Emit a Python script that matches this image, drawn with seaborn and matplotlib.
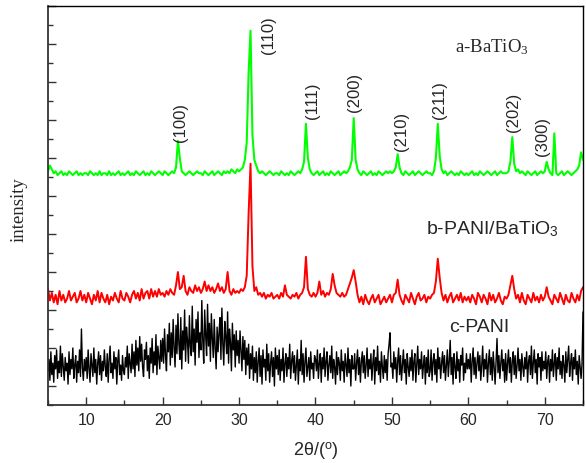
import numpy as np
import pandas as pd
import seaborn as sns
import matplotlib.pyplot as plt
from matplotlib.ticker import MultipleLocator

# 2theta grids, 5..75 deg: 0.25 deg steps for the two BaTiO3 traces,
# 0.125 deg steps for the noisy PANI trace
two_theta = 5 + 0.25 * np.arange(281)
two_theta_fine = 5 + 0.125 * np.arange(561)

# intensities, in tenths above each trace's own baseline
# rows = 5 degrees each, last value is 75.0
bto = [3, 6, 4, 2, 3, 1, 2, 3, 1, 2, 1, 3, 2, 1, 2, 3, 1, 2, 1, 2,
       2, 1, 3, 2, 1, 2, 1, 3, 1, 2, 2, 1, 3, 1, 2, 1, 2, 3, 1, 2,
       1, 2, 3, 1, 2, 1, 3, 2, 1, 2, 3, 1, 2, 1, 3, 2, 1, 2, 3, 2,
       1, 3, 2, 1, 2, 3, 2, 5, 19, 10, 3, 2, 1, 2, 3, 2, 1, 2, 3, 2,
       2, 1, 3, 2, 1, 2, 3, 1, 2, 3, 2, 1, 3, 2, 3, 2, 4, 3, 2, 4,
       3, 4, 5, 9, 18, 55, 77, 22, 9, 6, 3, 2, 3, 2, 1, 2, 3, 2, 1, 2,
       2, 1, 3, 2, 1, 2, 1, 3, 2, 1, 2, 3, 2, 4, 8, 28, 10, 4, 2, 1,
       2, 3, 1, 2, 3, 1, 2, 1, 3, 2, 1, 2, 3, 1, 2, 3, 2, 3, 5, 9,
       31, 9, 4, 2, 1, 3, 2, 1, 2, 3, 1, 2, 1, 3, 2, 1, 2, 3, 2, 3,
       2, 3, 5, 12, 5, 2, 1, 3, 2, 1, 2, 3, 1, 2, 3, 2, 1, 2, 3, 2,
       2, 1, 3, 10, 28, 11, 4, 2, 3, 1, 2, 3, 2, 1, 2, 1, 3, 2, 1, 2,
       1, 2, 3, 1, 2, 1, 3, 2, 1, 2, 3, 2, 1, 2, 3, 1, 2, 3, 2, 2,
       2, 3, 8, 21, 7, 3, 4, 2, 3, 2, 1, 3, 2, 1, 2, 3, 1, 2, 3, 2,
       3, 8, 4, 2, 1, 23, 2, 1, 2, 3, 1, 2, 3, 2, 1, 2, 3, 4, 6, 13,
       9]

pani_bto = [8, 2, 6, 1, 5, 0, 7, 2, 5, 1, 3, 7, 2, 4, 6, 1, 3, 7, 2, 5,
            1, 6, 3, 0, 5, 2, 7, 1, 6, 3, 1, 5, 0, 4, 2, 6, 3, 1, 7, 3,
            2, 6, 4, 1, 5, 7, 3, 6, 2, 8, 3, 6, 7, 3, 8, 4, 7, 4, 8, 5,
            6, 4, 7, 5, 8, 6, 5, 10, 17, 8, 9, 15, 7, 5, 9, 7, 6, 10, 7, 9,
            6, 8, 12, 7, 10, 7, 9, 6, 8, 11, 7, 9, 6, 8, 17, 7, 5, 8, 6, 7,
            6, 8, 7, 9, 15, 48, 74, 20, 7, 9, 5, 6, 4, 6, 3, 5, 4, 6, 3, 4,
            5, 3, 6, 4, 10, 5, 4, 3, 5, 4, 6, 3, 5, 6, 9, 25, 8, 5, 4, 6,
            4, 6, 12, 5, 7, 4, 6, 5, 8, 16, 10, 6, 5, 4, 6, 4, 5, 8, 11, 14,
            18, 12, 5, 1, 4, 0, 5, 2, 0, 3, 5, 1, 3, 5, 0, 2, 4, 1, 3, 5,
            1, 5, 6, 13, 5, 2, 0, 5, 3, 1, 6, 3, 0, 4, 6, 2, 3, 5, 1, 4,
            3, 5, 6, 12, 24, 14, 6, 2, 5, 1, 4, 6, 1, 3, 5, 2, 6, 1, 4, 2,
            4, 1, 5, 3, 0, 6, 4, 1, 5, 3, 0, 6, 2, 5, 1, 3, 6, 2, 0, 4,
            3, 5, 10, 15, 8, 3, 5, 1, 6, 2, 0, 5, 3, 1, 6, 2, 4, 1, 5, 2,
            4, 9, 4, 2, 0, 5, 3, 1, 6, 3, 0, 5, 2, 1, 6, 3, 1, 5, 2, 7,
            9]

pani = [8, 14, 3, 18, 6, 12, 2, 16, 9, 19, 4, 13, 7, 21, 5, 17, 10, 3, 15, 8,
        12, 1, 18, 6, 14, 9, 20, 4, 11, 16, 2, 13, 7, 19, 5, 30, 10, 3, 14, 8,
        15, 4, 19, 9, 2, 17, 11, 5, 20, 7, 14, 1, 12, 18, 6, 16, 3, 13, 8, 19,
        10, 5, 17, 2, 14, 21, 7, 12, 4, 18, 9, 15, 1, 13, 19, 6, 11, 3, 16, 8,
        6, 15, 10, 21, 4, 17, 12, 7, 22, 9, 18, 5, 24, 11, 20, 8, 26, 13, 22, 10,
        5, 19, 14, 23, 8, 16, 4, 20, 12, 25, 7, 18, 11, 27, 6, 21, 15, 9, 24, 13,
        25, 12, 30, 16, 8, 27, 18, 33, 11, 28, 15, 35, 20, 10, 32, 17, 38, 22, 14, 36,
        9, 29, 19, 40, 13, 31, 24, 12, 37, 21, 16, 42, 18, 30, 11, 35, 23, 39, 15, 28,
        19, 45, 24, 12, 40, 27, 16, 43, 21, 33, 13, 38, 25, 15, 35, 20, 9, 31, 18, 28,
        36, 14, 41, 22, 11, 34, 26, 17, 39, 12, 30, 23, 8, 33, 19, 27, 10, 29, 16, 24,
        12, 29, 19, 8, 26, 14, 24, 6, 20, 11, 22, 4, 17, 9, 21, 3, 15, 7, 18, 2,
        13, 20, 5, 16, 1, 19, 10, 14, 3, 22, 8, 17, 2, 12, 18, 5, 15, 0, 20, 9,
        16, 6, 19, 3, 14, 8, 20, 2, 12, 17, 5, 15, 9, 22, 4, 13, 18, 7, 16, 3,
        11, 19, 1, 14, 8, 24, 6, 17, 2, 13, 20, 5, 10, 15, 3, 18, 9, 12, 4, 16,
        14, 8, 19, 4, 12, 17, 2, 15, 9, 20, 5, 13, 18, 3, 11, 16, 7, 21, 4, 14,
        10, 1, 18, 6, 15, 12, 3, 19, 8, 13, 2, 17, 11, 5, 20, 7, 14, 0, 16, 9,
        9, 17, 3, 12, 19, 6, 15, 2, 13, 18, 7, 16, 4, 11, 20, 5, 14, 9, 17, 3,
        12, 19, 1, 15, 8, 21, 6, 13, 2, 18, 10, 4, 16, 7, 14, 3, 17, 22, 28, 10,
        12, 4, 18, 9, 15, 2, 13, 20, 6, 16, 3, 11, 19, 7, 14, 1, 17, 10, 5, 15,
        8, 19, 3, 13, 17, 2, 12, 21, 6, 14, 9, 18, 4, 11, 16, 1, 15, 7, 19, 5,
        8, 19, 3, 13, 17, 6, 14, 2, 20, 9, 15, 4, 12, 18, 7, 16, 3, 11, 19, 5,
        13, 24, 6, 15, 1, 17, 10, 4, 18, 8, 14, 2, 16, 11, 20, 3, 12, 7, 17, 9,
        14, 9, 17, 2, 13, 20, 6, 15, 4, 12, 18, 8, 16, 3, 11, 21, 5, 14, 9, 17,
        2, 12, 19, 6, 15, 3, 18, 10, 1, 13, 25, 7, 16, 4, 12, 19, 8, 14, 2, 17,
        3, 12, 19, 7, 15, 2, 13, 18, 6, 16, 4, 11, 20, 8, 14, 3, 17, 10, 5, 15,
        9, 18, 2, 13, 16, 6, 21, 4, 12, 19, 7, 14, 1, 17, 10, 15, 3, 18, 8, 13,
        9, 18, 4, 13, 16, 2, 14, 8, 19, 5, 12, 17, 3, 15, 9, 20, 6, 13, 4, 16,
        11, 2, 18, 7, 14, 21, 5, 12, 17, 3, 15, 9, 19, 6, 13, 1, 16, 10, 4, 12,
        39]

# (hkl) labels of BaTiO3 and where they sit
hkl = ['(100)', '(110)', '(111)', '(200)', '(210)', '(211)', '(202)', '(300)']
hkl_x = [22.4, 33.8, 39.6, 45.1, 51.2, 56.2, 65.9, 69.7]
hkl_y = [12.9, 17.5, 14.1, 14.5, 12.4, 14.1, 13.4, 12.15]

sample_names = ['a-BaTiO$_3$', 'b-PANI/BaTiO$_\\mathsf{3}$', 'c-PANI']

assert len(bto) == len(pani_bto) == len(two_theta)
assert len(pani) == len(two_theta_fine)

df = pd.DataFrame({'two_theta': two_theta,
                   'a': np.array(bto) / 10 + 11.0,
                   'b': np.array(pani_bto) / 10 + 4.3})
df_c = pd.DataFrame({'two_theta': two_theta_fine,
                     'c': np.array(pani) / 10 + 0.0})

sns.set_style('ticks')
plt.rcParams['font.family'] = ['Liberation Sans', 'DejaVu Sans']
plt.rcParams['mathtext.fontset'] = 'custom'
plt.rcParams['mathtext.rm'] = 'Liberation Serif'
plt.rcParams['mathtext.sf'] = 'Liberation Sans'
plt.rcParams['mathtext.it'] = 'Liberation Serif:italic'

fig = plt.figure(figsize=(5.86, 4.64), dpi=100)
ax = fig.add_axes([48 / 586, 58 / 464, 535 / 586, 399 / 464])

sns.lineplot(data=df_c, x='two_theta', y='c', color='black', linewidth=1.0, ax=ax)
sns.lineplot(data=df, x='two_theta', y='b', color='#ff0000', linewidth=1.4, ax=ax)
sns.lineplot(data=df, x='two_theta', y='a', color='#00ff00', linewidth=1.5, ax=ax)

ax.set_xlim(5, 75)
ax.set_ylim(-1, 20)
ax.xaxis.set_major_locator(MultipleLocator(10))
ax.xaxis.set_minor_locator(MultipleLocator(5))
ax.yaxis.set_major_locator(MultipleLocator(2))
ax.yaxis.set_minor_locator(MultipleLocator(1))
ax.set_yticklabels([])
ax.tick_params(which='both', direction='in', top=False, right=False, color='#333333')
ax.tick_params(which='major', length=6, width=1.0, labelsize=11.5, pad=5)
ax.tick_params(which='minor', length=3.5, width=1.0)
for side in ['left', 'bottom']:
    ax.spines[side].set_linewidth(1.3)
    ax.spines[side].set_color('#333333')
for side in ['top', 'right']:
    ax.spines[side].set_visible(True)
    ax.spines[side].set_linewidth(1.0)
    ax.spines[side].set_color('black')
ax.set_xlabel('')
ax.set_ylabel('')

for lab, x, y in zip(hkl, hkl_x, hkl_y):
    ax.text(x, y, lab, rotation=90, ha='center', va='bottom', fontsize=12)

ax.text(58.3, 17.6, sample_names[0], family='Liberation Serif', fontsize=13.5, va='baseline')
ax.text(54.4, 8.03, sample_names[1], fontsize=14, va='baseline')
ax.text(57.5, 2.89, sample_names[2], fontsize=14, va='baseline')

fig.text(19.5 / 586, 1 - 210 / 464, 'intensity', rotation=90, ha='center', va='center',
         family='Liberation Serif', fontsize=13.5)
fig.text(316 / 586, 1 - 451 / 464, '2θ/($^\\mathsf{o}$)', ha='center', va='center', fontsize=13)

fig.savefig('out.png', dpi=100)
